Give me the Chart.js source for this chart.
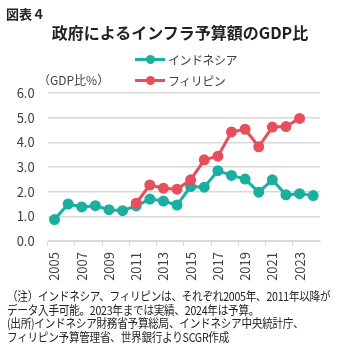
<!DOCTYPE html>
<html lang="ja">
<head>
<meta charset="utf-8">
<script src="https://cdn.jsdelivr.net/npm/chart.js@4"></script>
<style>
  body { margin: 0; background: #fff; font-family: "Noto Sans CJK JP", sans-serif; }
  #wrap { position: relative; width: 340px; height: 346px; overflow: hidden; }
  #grafico { position: absolute; left: 0; top: 0; }
  .txt { position: absolute; white-space: nowrap; color: #222; }
  #fig { left: 6px; top: 4px; font-size: 13px; font-weight: bold; }
  #titulo { left: 0; width: 360px; text-align: center; top: 20px; font-size: 16px; font-weight: bold; }
  #unidad { left: 38px; top: 71px; font-size: 12px; color: #404040; }
  .leyenda { position: absolute; left: 135px; font-size: 12px; color: #404040; white-space: nowrap; letter-spacing: -0.5px; }
  .leyenda .linea { position: absolute; left: 0; top: 7px; width: 30px; height: 3px; }
  .leyenda .punto { position: absolute; left: 11px; top: 4px; width: 9px; height: 9px; border-radius: 50%; }
  .leyenda span.t { position: absolute; left: 33px; top: 0; }
  #notas { left: 7px; top: 289px; font-size: 12px; line-height: 13.5px; letter-spacing: -0.3px;
           transform: scaleX(0.885); transform-origin: 0 0; }
</style>
</head>
<body>
<div id="wrap">
  <canvas id="grafico" width="340" height="346"></canvas>
  <div class="txt" id="fig">図表４</div>
  <div class="txt" id="titulo">政府によるインフラ予算額のGDP比</div>
  <div class="txt" id="unidad">（GDP比%）</div>
  <div class="leyenda" id="ley1" style="top:51px"></div>
  <div class="leyenda" id="ley2" style="top:72px"></div>
  <div class="txt" id="notas">（注）インドネシア、フィリピンは、それぞれ2005年、2011年以降が<br>データ入手可能。2023年までは実績、2024年は予算。<br>(出所)インドネシア財務省予算総局、インドネシア中央統計庁、<br>フィリピン予算管理省、世界銀行よりSCGR作成</div>
</div>
<script>
// 年（2005〜2024）
const years = ['2005', '2006', '2007', '2008', '2009', '2010', '2011', '2012', '2013', '2014',
               '2015', '2016', '2017', '2018', '2019', '2020', '2021', '2022', '2023', '2024'];
// インドネシア（GDP比%）
const indonesia = [0.87, 1.50, 1.38, 1.43, 1.27, 1.23, 1.42, 1.70, 1.62, 1.46,
                   2.21, 2.18, 2.85, 2.66, 2.51, 1.98, 2.48, 1.87, 1.92, 1.84];
// フィリピン（2011年以降）
const filipinas = [null, null, null, null, null, null, 1.53, 2.27, 2.14, 2.10,
                   2.48, 3.29, 3.44, 4.42, 4.53, 3.82, 4.62, 4.64, 4.97, null];
const nombres = ['インドネシア', 'フィリピン'];
const colores = ['#1BAF9F', '#E6505D'];
const yTicks = [0, 1, 2, 3, 4, 5, 6];

// 凡例
['ley1', 'ley2'].forEach((id, i) => {
    document.getElementById(id).innerHTML =
        `<div class="linea" style="background:${colores[i]}"></div>` +
        `<div class="punto" style="background:${colores[i]}"></div>` +
        `<span class="t">${nombres[i]}</span>`;
});

const serie = (label, data, color) => ({
    label, data,
    borderColor: color,
    backgroundColor: color,
    borderWidth: 3,
    pointRadius: 4,
    pointHoverRadius: 4,
    spanGaps: false
});

new Chart(document.getElementById('grafico').getContext('2d'), {
    type: 'line',
    data: {
        labels: years,
        datasets: [serie(nombres[1], filipinas, colores[1]), serie(nombres[0], indonesia, colores[0])]
    },
    options: {
        responsive: false,
        animation: false,
        layout: { padding: { left: 0, top: 93, right: 20, bottom: 62 } },
        plugins: { legend: { display: false }, tooltip: { enabled: false } },
        scales: {
            x: {
                offset: true,
                afterFit: s => { s.height = 43; },
                border: { display: true, color: '#d9d9d9' },
                grid: {
                    offset: true,
                    drawOnChartArea: false,
                    tickLength: 5,
                    tickColor: ctx => ctx.index % 2 === 0 ? '#d9d9d9' : 'rgba(0,0,0,0)'
                },
                ticks: {
                    autoSkip: false,
                    minRotation: 90,
                    maxRotation: 90,
                    padding: 6,
                    color: '#404040',
                    font: { family: '"Noto Sans CJK JP", sans-serif', size: 13 },
                    callback: (v, i) => i % 2 === 0 ? years[i] : ''
                }
            },
            y: {
                min: 0,
                max: 6,
                afterFit: s => { s.width = 47.7; },
                afterBuildTicks: s => { s.ticks = yTicks.map(v => ({ value: v })); },
                border: { display: false },
                grid: { color: '#d9d9d9', drawTicks: false, lineWidth: 1.5 },
                ticks: {
                    padding: 13,
                    color: '#404040',
                    font: { family: '"Noto Sans CJK JP", sans-serif', size: 13 },
                    callback: v => v.toFixed(1)
                }
            }
        }
    }
});
</script>
</body>
</html>
